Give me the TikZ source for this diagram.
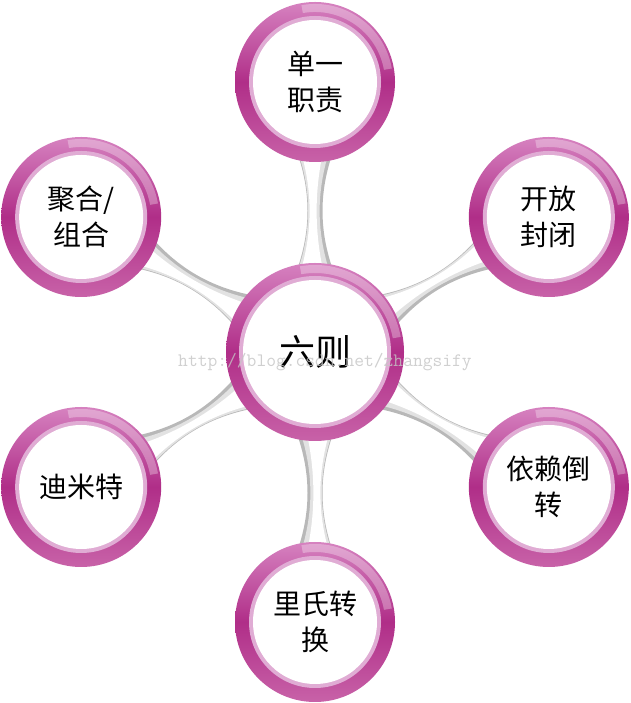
\documentclass[tikz,border=0pt]{standalone}
\usepackage{fontspec}
\newfontfamily\cjk{Noto Sans CJK SC}
\usetikzlibrary{calc,backgrounds}
\definecolor{RingTop}{RGB}{214,130,192}
\definecolor{RingDark}{RGB}{176,46,136}
\definecolor{RingLow}{RGB}{200,98,168}
\definecolor{RingPale}{RGB}{224,172,212}
\definecolor{TubeDark}{RGB}{184,184,184}
\definecolor{TubeMid}{RGB}{226,226,226}
\definecolor{MarkGray}{RGB}{196,196,196}

% hourglass between hub and #1, #2 = angle, #3/#4 = ccw side end/ctrl, #5/#6 = cw side end/ctrl
\newcommand{\tubepath}[6]{%
  ($(hub)!82pt!(#1)+({#2+90}:#3pt)$)
  .. controls ($(hub)!122pt!(#1)+({#2+90}:#4pt)$) and ($(#1)!110pt!(hub)+({#2+90}:#4pt)$) ..
  ($(#1)!70pt!(hub)+({#2+90}:#3pt)$) --
  ($(#1)!70pt!(hub)+({#2-90}:#5pt)$)
  .. controls ($(#1)!110pt!(hub)+({#2-90}:#6pt)$) and ($(hub)!122pt!(#1)+({#2-90}:#6pt)$) ..
  ($(hub)!82pt!(#1)+({#2-90}:#5pt)$) -- cycle}

\begin{document}
\begin{tikzpicture}[x=1pt,y=1pt,
  ring/.style 2 args={circle,inner sep=0pt,minimum size={2*#1pt},
    top color=RingTop,bottom color=RingLow,middle color=RingDark,align=center,
    path picture={
      \fill[white,opacity=.3] (path picture bounding box.center) ++(10:{#1pt-2pt})
        arc[start angle=10,end angle=100,radius={#1pt-2pt}] -- ++(100:-8pt)
        arc[start angle=100,end angle=10,radius={#1pt-10pt}] -- cycle;
      \fill[RingPale] (path picture bounding box.center) circle[radius={#2pt+4pt}];
      \fill[white] (path picture bounding box.center) circle[radius=#2pt];
    }},
  leaf/.style={ring={80}{62},font=\cjk\fontsize{28}{36}\selectfont},
  hubnode/.style={ring={89}{72},font=\cjk\fontsize{36}{40}\selectfont}]
  \useasboundingbox (0,0) rectangle (630,703);

  \node[hubnode] (hub) at (315,351) {六则};
  \foreach \a/\n/\t in {90/srp/{单一\\职责}, 30/ocp/{开放\\封闭}, 330/dip/{依赖倒\\转},
                        270/lsp/{里氏转\\换}, 210/lod/{迪米特}, 150/carp/{聚合/\\组合}} {
    \node[leaf] (\n) at ($(hub)+(\a:270)$) {\t};
    \begin{scope}[on background layer]
      \fill[TubeDark] \tubepath{\n}{\a}{18}{4}{18}{4};
      \fill[TubeMid] \tubepath{\n}{\a}{17}{3.5}{14}{1.5};
      \fill[white] \tubepath{\n}{\a}{14}{2.5}{8}{-0.5};
    \end{scope}
  }

  \node[text=MarkGray,opacity=.8,font=\ttfamily\fontsize{19}{20}\selectfont] (mark) at (325,341) {http://blog.csdn.net/zhangsify};
\end{tikzpicture}
\end{document}
